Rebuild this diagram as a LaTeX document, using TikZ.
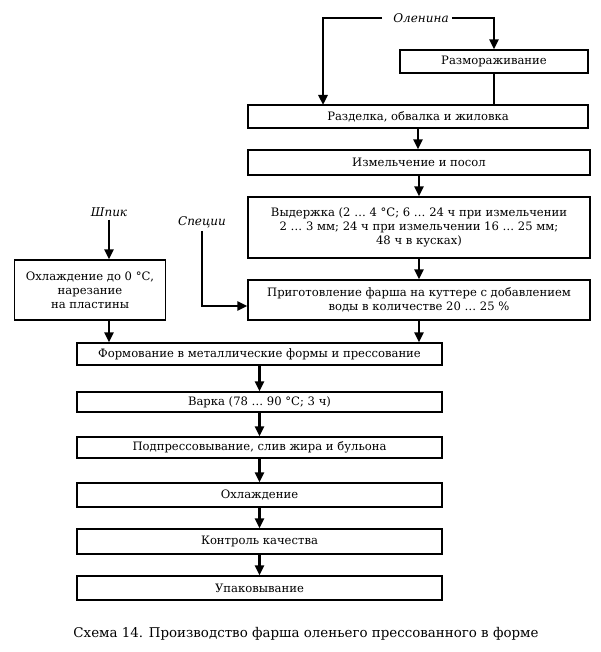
\documentclass[tikz,border=0pt]{standalone}
\usepackage{fontspec}
\setmainfont{DejaVu Serif}
\usetikzlibrary{arrows.meta,positioning,calc}

\begin{document}
\begin{tikzpicture}[x=1pt,y=-1pt,
	box/.style={draw,line width=1.3pt,inner sep=2pt,align=center,font=\fontsize{11.6}{14}\selectfont},
	lbl/.style={font=\itshape\fontsize{12}{14}\selectfont,inner sep=3pt},
	flow/.style={line width=2.6pt,-{Triangle[length=10pt,width=9pt]}},
	feed/.style={line width=2.6pt}]
	\useasboundingbox (0,0) rectangle (600,652);

	\node[box,minimum width=188pt,minimum height=23pt] (thaw)  at (494,61.5 ) {Размораживание};
	\node[box,minimum width=340pt,minimum height=23pt] (cut)   at (418,116.5) {Разделка, обвалка и жиловка};
	\node[box,minimum width=342pt,minimum height=25pt] (grind) at (419,162.5) {Измельчение и посол};
	\node[box,minimum width=342pt,minimum height=61pt] (hold)  at (419,227.5) {Выдержка (2 … 4 °С; 6 … 24 ч при измельчении\\2 … 3 мм; 24 ч при измельчении 16 … 25 мм;\\48 ч в кусках)};
	\node[box,minimum width=342pt,minimum height=40pt] (prep)  at (419,300  ) {Приготовление фарша на куттере с добавлением\\воды в количестве 20 … 25 \%};
	\node[box,minimum width=151pt,minimum height=60pt] (cool)  at (90,290   ) {Охлаждение до 0 °С,\\нарезание\\на пластины};

	\node[box,minimum width=365pt,minimum height=22pt] (form)  at (259.5,354  ) {Формование в металлические формы и прессование};
	\node[box,minimum width=365pt,minimum height=20pt] (boil)  at (259.5,402  ) {Варка (78 … 90 °С; 3 ч)};
	\node[box,minimum width=365pt,minimum height=21pt] (press) at (259.5,447.5) {Подпрессовывание, слив жира и бульона};
	\node[box,minimum width=365pt,minimum height=24pt] (chill) at (259.5,495  ) {Охлаждение};
	\node[box,minimum width=365pt,minimum height=25pt] (qc)    at (259.5,541.5) {Контроль качества};
	\node[box,minimum width=365pt,minimum height=24pt] (pack)  at (259.5,588  ) {Упаковывание};

	\node[lbl] (ven)   at (421,18 ) {Оленина};
	\node[lbl] (spik)  at (109,212) {Шпик};
	\node[lbl] (spice) at (202,222) {Специи};
	\node[font=\fontsize{13.4}{16}\selectfont] (caption) at (306,634) {Схема 14. Производство фарша оленьего прессованного в форме};

	\coordinate (cutin) at (323,105);
	\draw[flow] ([xshift=-8pt]ven.west) -| (cutin);
	\draw[flow] (ven.east) -| (thaw.north);
	\draw[feed] (thaw.south) -- (thaw.south |- cut.north);
	\draw[flow] (cut.south) -- (cut.south |- grind.north);
	\draw[flow] (grind.south) -- (hold.north);
	\draw[flow] (hold.south) -- (prep.north);
	\draw[flow] (spik.south) -- (spik.south |- cool.north);
	\draw[flow] (cool.south -| spik) -- (spik |- form.north);
	\draw[flow] (spice.south) |- ([yshift=-6pt]prep.west);
	\draw[flow] (prep.south) -- (prep.south |- form.north);
	\foreach \a/\b in {form/boil,boil/press,press/chill,chill/qc,qc/pack}
		\draw[flow] (\a) -- (\b);
\end{tikzpicture}
\end{document}
